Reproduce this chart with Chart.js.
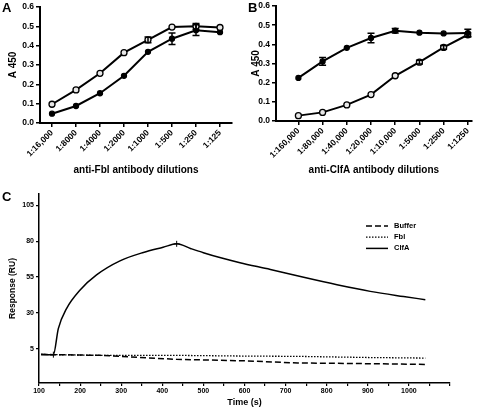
<!DOCTYPE html>
<html>
<head>
<meta charset="utf-8">
<script src="https://cdn.jsdelivr.net/npm/chart.js@4.4.0/dist/chart.umd.min.js"></script>
<style>
  body { margin: 0; background: #fff; }
  #wrap { position: relative; width: 477px; height: 407px; overflow: hidden; background: #fff; }
  canvas { position: absolute; }
  .tag { position: absolute; font: bold 13px 'Liberation Sans', Arial, sans-serif; color: #000; }
</style>
</head>
<body>
<div id="wrap">
  <canvas id="chartA" width="238" height="180" style="left:0;top:0"></canvas>
  <canvas id="chartB" width="239" height="180" style="left:238px;top:0"></canvas>
  <canvas id="chartC" width="477" height="217" style="left:0;top:190px"></canvas>
  <div class="tag" style="left:2px;top:0px">A</div>
  <div class="tag" style="left:248px;top:0px">B</div>
  <div class="tag" style="left:2px;top:189px">C</div>
</div>
<script>
// panel A - anti-Fbl dilutions
var labelsA = ["1:16,000", "1:8000", "1:4000", "1:2000", "1:1000", "1:500", "1:250", "1:125"];
var fblOpen = [0.097, 0.171, 0.257, 0.364, 0.430, 0.496, 0.500, 0.494];
var fblOpenErr = [0, 0, 0, 0, 0.015, 0, 0.015, 0];
var fblFilled = [0.048, 0.088, 0.154, 0.244, 0.368, 0.436, 0.480, 0.470];
var fblFilledErr = [0, 0, 0, 0, 0, 0.03, 0.028, 0];

// panel B - anti-ClfA dilutions
var labelsB = ["1:160,000", "1:80,000", "1:40,000", "1:20,000", "1:10,000", "1:5000", "1:2500", "1:1250"];
var clfFilled = [0.225, 0.311, 0.382, 0.433, 0.471, 0.461, 0.457, 0.459];
var clfFilledErr = [0, 0.02, 0, 0.025, 0.012, 0, 0, 0.02];
var clfOpen = [0.028, 0.045, 0.084, 0.138, 0.236, 0.307, 0.384, 0.450];
var clfOpenErr = [0, 0, 0, 0, 0, 0.01, 0.01, 0.01];

// panel C - sensorgram
var timeClfA = [105, 135, 147, 167, 200, 240, 297, 354, 402, 435, 470, 500, 540, 589, 663, 744, 825, 906, 987, 1040];
var clfaRU = [0.8, 0.8, 19, 33, 46, 56.5, 66.3, 72.2, 75.8, 78.2, 74.8, 72.0, 68.6, 65.0, 60.3, 54.8, 49.6, 45.0, 41.4, 39.2];
var timeBase = [105, 135, 250, 435, 600, 730, 900, 1040];
var bufferRU = [1.0, 0.8, 0.3, -2.5, -3.5, -5.0, -5.5, -6.0];
var fblRU = [1.0, 0.8, 0.3, 0.3, -0.2, -0.4, -1.2, -1.6];
var markTimes = [135, 435]; // injection start / end cursors on the ClfA trace
var yTicksC = [5, 30, 55, 80, 105];

Chart.defaults.font.family = "'Liberation Sans', Arial, Helvetica, sans-serif";
Chart.defaults.font.weight = "bold";
Chart.defaults.font.size = 8.5;
Chart.defaults.color = "#000";

// draws the vertical error bars with caps
var errorBars = {
  id: "errorBars",
  afterDatasetsDraw: function (chart) {
    var ctx = chart.ctx;
    var yScale = chart.scales.y;
    chart.data.datasets.forEach(function (ds, i) {
      if (!ds.errors) return;
      var meta = chart.getDatasetMeta(i);
      ds.errors.forEach(function (e, j) {
        if (!e) return;
        var x = meta.data[j].x;
        var top = yScale.getPixelForValue(ds.data[j].y + e);
        var bot = yScale.getPixelForValue(ds.data[j].y - e);
        ctx.save();
        ctx.strokeStyle = "#000";
        ctx.lineWidth = 1.5;
        ctx.beginPath();
        ctx.moveTo(x, top); ctx.lineTo(x, bot);
        ctx.moveTo(x - 3.5, top); ctx.lineTo(x + 3.5, top);
        ctx.moveTo(x - 3.5, bot); ctx.lineTo(x + 3.5, bot);
        ctx.stroke();
        ctx.restore();
      });
    });
  }
};

function dilutionChart(id, labels, series, xTitle, box) {
  return new Chart(document.getElementById(id), {
    type: "line",
    data: {
      datasets: series.map(function (s) {
        return {
          data: s.values.map(function (v, i) { return { x: i, y: v }; }),
          errors: s.errors,
          borderColor: "#000",
          borderWidth: 2,
          pointRadius: s.open ? 3 : 2.5,
          pointBorderWidth: 1.3,
          pointBackgroundColor: s.open ? "#e8e8e8" : "#000",
          pointBorderColor: "#000",
          tension: 0
        };
      })
    },
    options: {
      responsive: false,
      animation: false,
      devicePixelRatio: 1,
      layout: { padding: { top: box.top, right: box.right, left: 0, bottom: 0 } },
      plugins: { legend: { display: false }, tooltip: { enabled: false } },
      scales: {
        x: {
          type: "linear",
          min: box.xMin,
          max: box.xMax,
          afterBuildTicks: function (s) { s.ticks = labels.map(function (l, i) { return { value: i }; }); },
          afterFit: function (s) { s.height = box.xHeight; s.paddingLeft = 0; s.paddingRight = 0; },
          grid: { drawOnChartArea: false, color: "#000", lineWidth: 1.5, tickLength: 4 },
          border: { color: "#000", width: 2 },
          ticks: { autoSkip: false, minRotation: 45, maxRotation: 45, padding: 1,
                   callback: function (v) { return labels[v]; } },
          title: { display: true, text: xTitle, font: { size: 10 }, padding: { top: 0, bottom: 4 } }
        },
        y: {
          min: 0,
          max: 0.6,
          afterFit: function (s) { s.width = box.yWidth; s.paddingTop = 0; s.paddingBottom = 0; },
          grid: { drawOnChartArea: false, color: "#000", lineWidth: 1.5, tickLength: 4 },
          border: { color: "#000", width: 2 },
          ticks: { stepSize: 0.1, padding: 2, callback: function (v) { return v.toFixed(1); } },
          title: { display: true, text: "A 450", font: { size: 10 }, padding: { top: box.yTitlePad, bottom: 0 } }
        }
      }
    },
    plugins: [errorBars]
  });
}

dilutionChart("chartA", labelsA, [
  { values: fblOpen, errors: fblOpenErr, open: true },
  { values: fblFilled, errors: fblFilledErr, open: false }
], "anti-Fbl antibody dilutions",
  { top: 7, right: 6, xHeight: 57, yWidth: 40, xMin: -0.5, xMax: 7.5, yTitlePad: 7 });

dilutionChart("chartB", labelsB, [
  { values: clfFilled, errors: clfFilledErr, open: false },
  { values: clfOpen, errors: clfOpenErr, open: true }
], "anti-ClfA antibody dilutions",
  { top: 6, right: 0, xHeight: 59, yWidth: 38, xMin: -0.925, xMax: 7.16, yTitlePad: 12 });

// legend drawn at the top right of the plot area, as line samples
var sideLegend = {
  id: "sideLegend",
  afterDraw: function (chart) {
    var ctx = chart.ctx;
    var x0 = chart.chartArea.right - 84;
    chart.data.datasets.forEach(function (ds, i) {
      var y = 36 + i * 11.2;
      ctx.save();
      ctx.strokeStyle = "#000";
      ctx.lineWidth = ds.borderWidth;
      ctx.setLineDash(ds.borderDash || []);
      ctx.beginPath();
      ctx.moveTo(x0, y);
      ctx.lineTo(x0 + 22, y);
      ctx.stroke();
      ctx.setLineDash([]);
      ctx.fillStyle = "#000";
      ctx.font = "bold 7.5px 'Liberation Sans', Arial, sans-serif";
      ctx.textBaseline = "middle";
      ctx.fillText(ds.label, x0 + 28, y);
      ctx.restore();
    });
  }
};

new Chart(document.getElementById("chartC"), {
  type: "line",
  data: {
    datasets: [
      { label: "Buffer", data: timeBase.map(function (t, i) { return { x: t, y: bufferRU[i] }; }),
        borderDash: [6, 3], borderWidth: 1.5 },
      { label: "Fbl", data: timeBase.map(function (t, i) { return { x: t, y: fblRU[i] }; }),
        borderDash: [1.5, 1.5], borderWidth: 1.3 },
      { label: "ClfA", data: timeClfA.map(function (t, i) { return { x: t, y: clfaRU[i] }; }),
        borderWidth: 1.5, cubicInterpolationMode: "monotone",
        pointStyle: "cross", pointBorderColor: "#000", pointBorderWidth: 1,
        pointRadius: function (c) { return markTimes.indexOf(timeClfA[c.dataIndex]) >= 0 ? 3 : 0; } }
    ]
  },
  options: {
    responsive: false,
    animation: false,
    devicePixelRatio: 1,
    elements: { point: { radius: 0 }, line: { borderColor: "#000", fill: false } },
    layout: { padding: { top: 4, right: 27, left: 0, bottom: 0 } },
    plugins: { legend: { display: false }, tooltip: { enabled: false } },
    scales: {
      x: {
        type: "linear",
        min: 100,
        max: 1100,
        afterFit: function (s) { s.height = 24; s.paddingLeft = 0; s.paddingRight = 0; },
        grid: { drawOnChartArea: false, color: "#000", lineWidth: 1.2, tickLength: 3 },
        border: { color: "#000", width: 1.5 },
        ticks: { stepSize: 50, autoSkip: false, maxRotation: 0, padding: 1, font: { size: 7 },
                 callback: function (v) { return (v % 100 === 0 && v < 1100) ? v : ""; } },
        title: { display: true, text: "Time (s)", font: { size: 9, lineHeight: 1 }, padding: { top: 0, bottom: 0 } }
      },
      y: {
        type: "linear",
        min: -19,
        max: 113,
        afterBuildTicks: function (s) { s.ticks = yTicksC.map(function (v) { return { value: v }; }); },
        afterFit: function (s) { s.width = 39; s.paddingTop = 0; s.paddingBottom = 0; },
        grid: { drawOnChartArea: false, color: "#000", lineWidth: 1.2, tickLength: 3 },
        border: { color: "#000", width: 1.5 },
        ticks: { padding: 2, font: { size: 7 } },
        title: { display: true, text: "Response (RU)", font: { size: 8.5 }, padding: { top: 8, bottom: 0 } }
      }
    }
  },
  plugins: [sideLegend]
});
</script>
</body>
</html>
